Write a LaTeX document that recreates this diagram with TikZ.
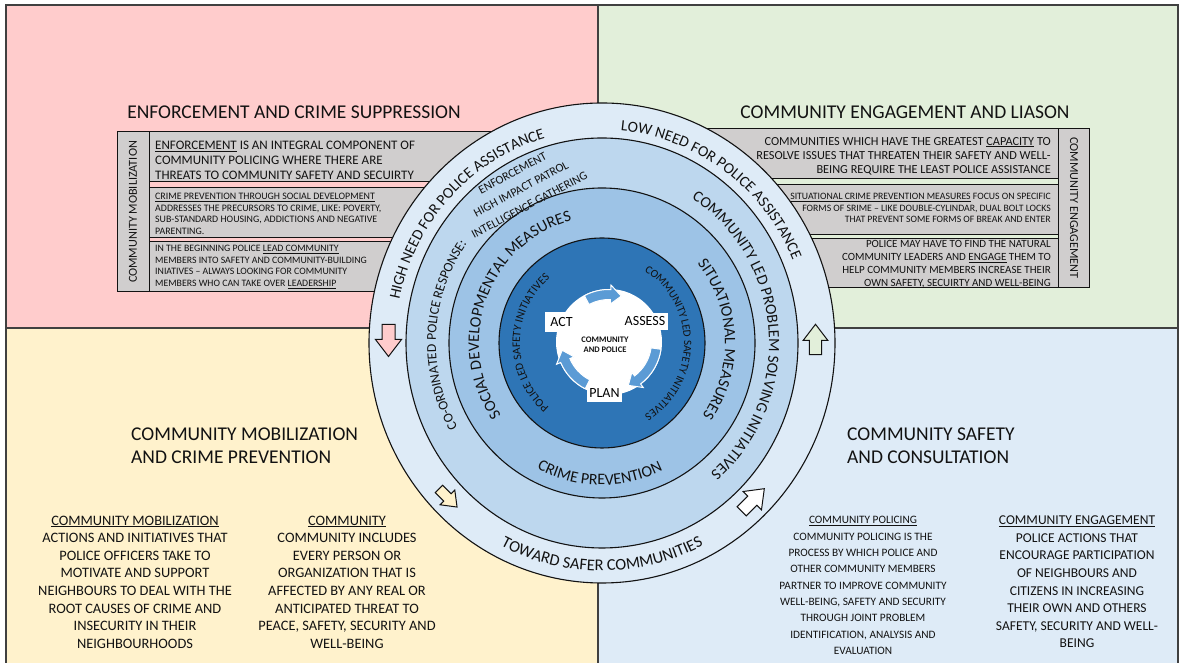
\documentclass[tikz,border=0pt]{standalone}
\usepackage{fontspec}
\setmainfont{Carlito}
\usetikzlibrary{decorations.text}

\definecolor{qpink}{RGB}{255,204,204}
\definecolor{qgreen}{RGB}{226,239,218}
\definecolor{qyellow}{RGB}{255,242,204}
\definecolor{qblue}{RGB}{222,235,247}
\definecolor{boxgray}{RGB}{208,206,206}
\definecolor{ringA}{RGB}{222,235,247}
\definecolor{ringB}{RGB}{189,215,238}
\definecolor{ringC}{RGB}{157,195,230}
\definecolor{ringD}{RGB}{46,117,182}
\definecolor{cycleblue}{RGB}{91,155,213}
\definecolor{inkdark}{RGB}{18,18,18}
\definecolor{framegray}{RGB}{64,64,64}

\newcommand\setfs[2]{\fontsize{#1}{#2}\selectfont}

\tikzset{
  frameline/.style={draw=framegray, line width=1.5pt},
  infobox/.style={draw=inkdark, line width=1pt, fill=boxgray},
  ringedge/.style={draw=inkdark, line width=1.1pt},
  boxtext/.style={inner sep=0pt, text=inkdark},
  ringlabel/.style 2 args={decorate, decoration={text along path, text align=center,
      text={|\setfs{#1}{#1}\color{inkdark}|#2}}},
  cyclebox/.style={fill=white, inner sep=0pt, font=\setfs{14}{14}, text=black},
  cyclearrow/.style={fill=cycleblue, draw=white, line width=1pt},
  blockline/.style={draw=inkdark, line width=1pt, line join=miter},
  pics/blockarrow/.style={code={
    \filldraw[blockline, fill=#1] (-6.5,-16) -- (-6.5,-1) -- (-13,-1) -- (0,16)
      -- (13,-1) -- (6.5,-1) -- (6.5,-16) -- cycle;}},
  pics/cyclearc/.style n args={2}{code={
    \filldraw[cyclearrow] (#1:52.5) arc[start angle=#1, end angle=#2+13, radius=52.5]
      -- (#2+13:57) -- (#2:47.5) -- (#2+13:38) -- (#2+13:42.5)
      arc[start angle=#2+13, end angle=#1, radius=42.5] -- cycle;}},
}

\begin{document}
\begin{tikzpicture}[x=1pt, y=1pt]
\useasboundingbox (0,0) rectangle (1179,663);

% four quadrants and frame
\fill[qpink] (6,335) rectangle (598,658);
\fill[qgreen] (598,335) rectangle (1178,658);
\fill[qyellow] (6,0) rectangle (598,335);
\fill[qblue] (598,0) rectangle (1178,335);
\draw[frameline] (6,0) -- (6,658) -- (1178,658) -- (1178,0);
\draw[frameline] (598,0) -- (598,658);
\draw[frameline] (6,335) -- (1178,335);

% quadrant titles
\node[boxtext, font=\setfs{19.5}{23}] (titleTL) at (294,551) {ENFORCEMENT AND CRIME SUPPRESSION};
\node[boxtext, font=\setfs{19.5}{23}] (titleTR) at (905,551) {COMMUNITY ENGAGEMENT AND LIASON};
\node[boxtext, font=\setfs{19.5}{23}, align=left, anchor=north west] (titleBL) at (131,235)
  {COMMUNITY MOBILIZATION\\AND CRIME PREVENTION};
\node[boxtext, font=\setfs{19.5}{23}, align=left, anchor=north west] (titleBR) at (847,235)
  {COMMUNITY SAFETY\\AND CONSULTATION};

% left grey panel
\filldraw[infobox] (117,371) rectangle (149,531);
\filldraw[infobox] (149,481) rectangle (520,531);
\filldraw[infobox] (149,425) rectangle (520,475);
\filldraw[infobox] (149,371) rectangle (520,421);
\node[boxtext, rotate=90, font=\setfs{12.2}{12.2}] (colTL) at (133,451) {COMMUNITY MOBILIZATION};
\node[boxtext, align=left, anchor=north west, font=\setfs{13}{15}] (rowTLa) at (155,522)
  {\underline{ENFORCEMENT} IS AN INTEGRAL COMPONENT OF\\COMMUNITY POLICING WHERE THERE ARE\\THREATS TO COMMUNITY SAFETY AND SECUIRTY};
\node[boxtext, align=left, anchor=north west, font=\setfs{9.9}{11.5}] (rowTLb) at (155,470)
  {\underline{CRIME PREVENTION THROUGH SOCIAL DEVELOPMENT}\\ADDRESSES THE PRECURSORS TO CRIME, LIKE: POVERTY,\\SUB-STANDARD HOUSING, ADDICTIONS AND NEGATIVE\\PARENTING.};
\node[boxtext, align=left, anchor=north west, font=\setfs{9.8}{11.7}] (rowTLc) at (155,418)
  {IN THE BEGINNING POLICE \underline{LEAD COMMUNITY}\\MEMBERS INTO SAFETY AND COMMUNITY-BUILDING\\INIATIVES -- ALWAYS LOOKING FOR COMMUNITY\\MEMBERS WHO CAN TAKE OVER \underline{LEADERSHIP}};

% right grey panel
\filldraw[infobox] (1058,375) rectangle (1089,534);
\filldraw[infobox] (680,484) rectangle (1058,534);
\filldraw[infobox] (680,428) rectangle (1058,478);
\filldraw[infobox] (680,375) rectangle (1058,424);
\node[boxtext, rotate=-90, font=\setfs{12.2}{12.2}] (colTR) at (1074,455) {COMMUNITY ENGAGEMENT};
\node[boxtext, align=right, anchor=north east, font=\setfs{12.3}{14.3}] (rowTRa) at (1051,526)
  {COMMUNITIES WHICH HAVE THE GREATEST \underline{CAPACITY} TO\\RESOLVE ISSUES THAT THREATEN THEIR SAFETY AND WELL-\\BEING REQUIRE THE LEAST POLICE ASSISTANCE};
\node[boxtext, align=right, anchor=north east, font=\setfs{9.75}{11.5}] (rowTRb) at (1051,470)
  {\underline{SITUATIONAL CRIME PREVENTION MEASURES} FOCUS ON SPECIFIC\\FORMS OF SRIME -- LIKE DOUBLE-CYLINDAR, DUAL BOLT LOCKS\\THAT PREVENT SOME FORMS OF BREAK AND ENTER};
\node[boxtext, align=right, anchor=north east, font=\setfs{11}{12.9}] (rowTRc) at (1051,423)
  {POLICE MAY HAVE TO FIND THE NATURAL\\COMMUNITY LEADERS AND \underline{ENGAGE} THEM TO\\HELP COMMUNITY MEMBERS INCREASE THEIR\\OWN SAFETY, SECUIRTY AND WELL-BEING};

% definitions in the lower quadrants
\node[boxtext, align=center, anchor=north, font=\setfs{14.4}{17.6}] (defMob) at (135,147.5)
  {\underline{COMMUNITY MOBILIZATION}\\ACTIONS AND INITIATIVES THAT\\POLICE OFFICERS TAKE TO\\MOTIVATE AND SUPPORT\\NEIGHBOURS TO DEAL WITH THE\\ROOT CAUSES OF CRIME AND\\INSECURITY IN THEIR\\NEIGHBOURHOODS};
\node[boxtext, align=center, anchor=north, font=\setfs{14.4}{17.6}] (defCom) at (347,147.5)
  {\underline{COMMUNITY}\\COMMUNITY INCLUDES\\EVERY PERSON OR\\ORGANIZATION THAT IS\\AFFECTED BY ANY REAL OR\\ANTICIPATED THREAT TO\\PEACE, SAFETY, SECURITY AND\\WELL-BEING};
\node[boxtext, align=center, anchor=north, font=\setfs{11.3}{16.3}] (defPol) at (863,146.6)
  {\underline{COMMUNITY POLICING}\\COMMUNITY POLICING IS THE\\PROCESS BY WHICH POLICE AND\\OTHER COMMUNITY MEMBERS\\PARTNER TO IMPROVE COMMUNITY\\WELL-BEING, SAFETY AND SECURITY\\THROUGH JOINT PROBLEM\\IDENTIFICATION, ANALYSIS AND\\EVALUATION};
\node[boxtext, align=center, anchor=north, font=\setfs{13.5}{17.6}] (defEng) at (1077,147.3)
  {\underline{COMMUNITY ENGAGEMENT}\\POLICE ACTIONS THAT\\ENCOURAGE PARTICIPATION\\OF NEIGHBOURS AND\\CITIZENS IN INCREASING\\THEIR OWN AND OTHERS\\SAFETY, SECURITY AND WELL-\\BEING};

% concentric rings
\begin{scope}[shift={(602,320)}]
  \filldraw[ringedge, fill=ringA] (0,0) ellipse [x radius=233, y radius=240];
  \filldraw[ringedge, fill=ringB] (0,0) ellipse [x radius=196, y radius=205];
  \filldraw[ringedge, fill=ringC] (0,0) ellipse [x radius=153, y radius=155];
  \filldraw[ringedge, fill=ringD] (0,0) ellipse [x radius=103, y radius=105];

  % outer ring
  \path[ringlabel={15.5}{HIGH NEED FOR POLICE ASSISTANCE}]
    (177:207 and 213) arc[start angle=177, end angle=97, x radius=207, y radius=213];
  \path[ringlabel={15.5}{LOW NEED FOR POLICE ASSISTANCE}]
    (94:207 and 213) arc[start angle=94, end angle=14, x radius=207, y radius=213];
  \path[ringlabel={16.4}{TOWARD SAFER COMMUNITIES}]
    (235:221 and 228) arc[start angle=235, end angle=305, x radius=221, y radius=228];

  % second ring
  \path[ringlabel={13.6}{CO-ORDINATED POLICE RESPONSE:}]
    (217:166 and 171) arc[start angle=217, end angle=137, x radius=166, y radius=171];
  \path[ringlabel={15.7}{COMMUNITY LED PROBLEM SOLVING INITIATIVES}]
    (64:167 and 171) arc[start angle=64, end angle=-56, x radius=167, y radius=171];

  % third ring
  \path[ringlabel={16}{SOCIAL DEVELOPMENTAL MEASURES}]
    (222:123 and 126) arc[start angle=222, end angle=97, x radius=123, y radius=126];
  \path[ringlabel={16}{SITUATIONAL MEASURES}]
    (46:123 and 126) arc[start angle=46, end angle=-42, x radius=123, y radius=126];
  \path[ringlabel={16}{CRIME PREVENTION}]
    (234:139 and 142) arc[start angle=234, end angle=304, x radius=139, y radius=142];

  % inner ring
  \path[ringlabel={11.5}{POLICE LED SAFETY INITIATIVES}]
    (240:82 and 84) arc[start angle=240, end angle=119, x radius=82, y radius=84];
  \path[ringlabel={11.2}{COMMUNITY LED SAFETY INITIATIVES}]
    (64:82 and 84) arc[start angle=64, end angle=-64, x radius=82, y radius=84];
\end{scope}

\node[boxtext, rotate=28, align=center, font=\setfs{12}{18}] (enfList) at (521,474)
  {ENFORCEMENT\\HIGH IMPACT PATROL\\INTELLIGENCE GATHERING};

% direction arrows in the outer ring
\pic[rotate=180] at (388.5,322.5) {blockarrow=qpink};
\pic[scale=0.95] at (815.5,323.5) {blockarrow=qgreen};
\pic[rotate=-135, scale=0.8] at (448,165) {blockarrow=qyellow};
\pic[rotate=-45] at (753,163) {blockarrow=white};

% assess-plan-act cycle
\begin{scope}[shift={(609,321)}]
  \fill[white] (0,0) circle[radius=53];
  \pic at (0,0) {cyclearc={118}{75}};
  \pic at (0,0) {cyclearc={-8}{-66}};
  \pic at (0,0) {cyclearc={243}{190}};
\end{scope}
\node[cyclebox, minimum width=33, minimum height=20] (act) at (561.5,341) {ACT};
\node[cyclebox, minimum width=46, minimum height=17] (assess) at (645,341.5) {ASSESS};
\node[cyclebox, minimum width=35, minimum height=17] (plan) at (604.5,269.5) {PLAN};
\node[boxtext, align=center, font=\bfseries\setfs{8.5}{10}] (core) at (605,318)
  {COMMUNITY\\AND POLICE};

\end{tikzpicture}
\end{document}
